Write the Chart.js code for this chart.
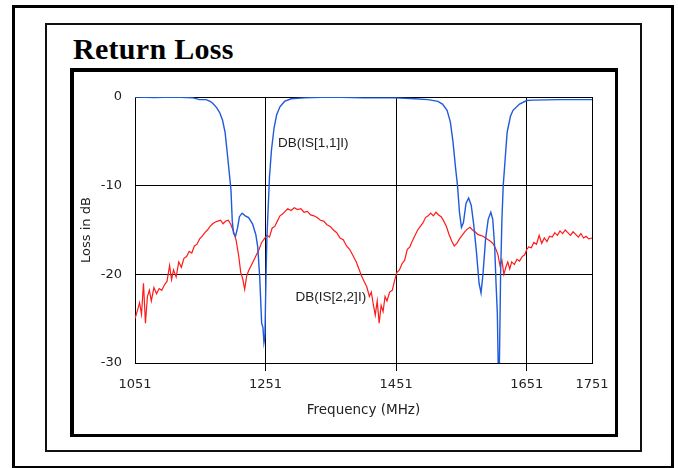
<!DOCTYPE html>
<html>
<head>
<meta charset="utf-8">
<script src="https://cdn.jsdelivr.net/npm/chart.js@4/dist/chart.umd.min.js"></script>
<style>
  html, body { margin: 0; padding: 0; background: #fff; }
  body { width: 678px; height: 468px; position: relative; overflow: hidden; }
  .frame { position: absolute; box-sizing: border-box; }
  #outer { left: 12px; top: 5px; width: 662px; height: 463px; border: 3px solid #000; border-bottom-width: 2px; }
  #middle { left: 45px; top: 23px; width: 597px; height: 429px; border: 2px solid #111; }
  #box { left: 70px; top: 68px; width: 548px; height: 369px; border: 4px solid #000; border-right-width: 3px; border-bottom-width: 3px; }
  #title { position: absolute; left: 73px; top: 32px; line-height: 1; font: bold 30px "Liberation Serif", "Times New Roman", serif; color: #000; letter-spacing: 0.3px; }
  #chart { position: absolute; left: 0; top: 0; }
</style>
</head>
<body>
<div class="frame" id="outer"></div>
<div class="frame" id="middle"></div>
<div class="frame" id="box"></div>
<div id="title">Return Loss</div>
<canvas id="chart" width="678" height="468"></canvas>
<script>
const xTicks = [1051, 1251, 1451, 1651, 1751];
const yTicks = [0, -10, -20, -30];

// DB(|S[1,1]|)
const s11Freq = [1051, 1080, 1110, 1140, 1150, 1160, 1166, 1170, 1176, 1181, 1185, 1189, 1193, 1196, 1198, 1200, 1202, 1205, 1208, 1211, 1215, 1220, 1225, 1231, 1236, 1239, 1242, 1245, 1247, 1248.5, 1250, 1251.6, 1253, 1255, 1257, 1260, 1264, 1268, 1273, 1280, 1290, 1310, 1350, 1400, 1450, 1480, 1500, 1515, 1522, 1529, 1534, 1538, 1542, 1545, 1548, 1551, 1554, 1558, 1562, 1566, 1570, 1574, 1578, 1581, 1584, 1588, 1592, 1596, 1599, 1602, 1604, 1606, 1607.5, 1609, 1611, 1613, 1615, 1618, 1621, 1626, 1630, 1640, 1651, 1660, 1700, 1751];
const s11Db = [0, -0.05, 0, -0.1, -0.3, -0.3, -0.5, -0.7, -1.2, -1.8, -2.6, -4.0, -6.8, -9.0, -10.5, -14.0, -15.4, -15.7, -14.8, -13.5, -13.1, -13.4, -13.6, -14.3, -15.5, -16.9, -20.3, -25.5, -26.0, -27.7, -27.0, -20.5, -16.0, -12.5, -9.0, -6.0, -3.5, -2.0, -1.1, -0.5, -0.2, -0.1, 0, -0.1, -0.1, -0.2, -0.3, -0.5, -0.8, -1.5, -2.8, -5.0, -8.0, -10.0, -13.0, -14.7, -14.2, -12.0, -11.4, -12.2, -14.5, -17.5, -21.0, -22.1, -20.0, -16.0, -13.8, -13.0, -13.8, -17.0, -21.0, -24.4, -31, -31, -20, -13.9, -10.0, -7.0, -4.0, -2.2, -1.5, -0.8, -0.4, -0.35, -0.3, -0.3];

// DB(|S[2,2]|)
const s22Freq = [1051, 1055, 1058, 1061, 1064, 1067, 1070, 1073, 1076, 1080, 1084, 1088, 1092, 1096, 1100, 1104, 1107, 1110, 1114, 1118, 1122, 1126, 1130, 1134, 1138, 1142, 1146, 1150, 1154, 1158, 1162, 1166, 1170, 1174, 1178, 1182, 1186, 1190, 1194, 1198, 1202, 1206, 1210, 1213, 1216, 1219, 1222, 1225, 1229, 1233, 1237, 1241, 1245, 1249, 1253, 1257, 1261, 1265, 1269, 1273, 1277, 1281, 1285, 1290, 1295, 1300, 1305, 1310, 1315, 1320, 1325, 1330, 1335, 1340, 1345, 1350, 1355, 1360, 1365, 1370, 1375, 1380, 1385, 1390, 1395, 1398, 1402, 1406, 1410, 1413, 1416, 1419, 1422, 1425, 1428, 1431, 1434, 1437, 1441, 1445, 1449, 1452, 1456, 1460, 1464, 1468, 1472, 1476, 1480, 1484, 1488, 1492, 1496, 1500, 1504, 1508, 1512, 1516, 1520, 1524, 1528, 1532, 1536, 1540, 1544, 1548, 1552, 1556, 1560, 1564, 1568, 1572, 1576, 1580, 1584, 1588, 1592, 1596, 1600, 1604, 1607, 1610, 1613, 1616, 1619, 1622, 1625, 1628, 1632, 1636, 1640, 1644, 1648, 1651, 1654, 1658, 1662, 1666, 1670, 1674, 1678, 1682, 1686, 1690, 1694, 1698, 1702, 1706, 1710, 1714, 1718, 1722, 1726, 1730, 1734, 1738, 1742, 1746, 1751];
const s22Db = [-25.0, -24.0, -23.2, -24.5, -21.0, -25.5, -22.5, -21.8, -23.0, -21.5, -22.2, -21.6, -21.8, -21.2, -20.8, -19.0, -20.6, -19.5, -20.3, -18.6, -19.2, -18.2, -18.0, -17.4, -17.6, -16.8, -16.6, -16.0, -15.7, -15.3, -15.0, -14.6, -14.3, -14.1, -14.0, -13.9, -14.3, -14.0, -13.9, -14.4, -15.2, -16.2, -18.0, -19.8, -20.5, -21.7, -20.2, -19.6, -19.0, -18.4, -17.8, -17.2, -16.4, -16.0, -15.6, -15.8, -14.8, -14.6, -14.0, -13.4, -13.2, -12.9, -12.6, -12.8, -12.5, -12.7, -12.6, -13.0, -12.9, -13.3, -13.4, -13.6, -13.9, -14.0, -14.4, -14.6, -15.0, -15.3, -15.9, -16.1, -16.8, -17.2, -17.9, -18.6, -19.6, -20.2, -20.8, -21.4, -22.5, -22.0, -23.4, -24.6, -23.0, -25.5, -23.5, -24.2, -22.5, -23.0, -22.0, -21.8, -20.6, -19.8, -19.5, -18.8, -18.4, -17.2, -16.9, -16.2, -15.6, -15.0, -14.6, -14.2, -13.6, -13.4, -13.1, -13.4, -13.0, -13.3, -13.5, -14.0, -14.6, -15.5, -16.2, -16.8, -16.5, -16.0, -15.6, -15.2, -14.9, -14.7, -15.0, -15.2, -15.5, -15.6, -15.7, -15.9, -16.1, -16.3, -16.6, -17.2, -17.8, -19.0, -18.4, -20.0, -19.2, -18.6, -19.4, -18.6, -18.9, -18.3, -18.5, -18.0, -17.8, -17.2, -16.9, -17.0, -16.4, -16.6, -15.6, -16.5, -15.9, -16.3, -15.7, -15.8, -15.3, -15.6, -15.1, -15.4, -15.0, -15.3, -15.6, -15.2, -15.5, -15.8, -15.4, -15.9, -15.7, -16.0, -15.9];

const labels = [
    { text: 'DB(IS[1,1]I)', x: 1270, y: -5.2 },
    { text: 'DB(IS[2,2]I)', x: 1297, y: -22.6 }
];

const FONT = '"DejaVu Sans", Verdana, sans-serif';
const toPoints = (xs, ys) => xs.map((x, i) => ({ x: x, y: ys[i] }));

const curveLabels = {
    id: 'curveLabels',
    afterDatasetsDraw(chart) {
        const ctx = chart.ctx;
        const xs = chart.scales.x, ys = chart.scales.y;
        ctx.save();
        ctx.font = '13.5px "Liberation Sans", Arial, sans-serif';
        ctx.fillStyle = '#222';
        ctx.textBaseline = 'middle';
        labels.forEach(l => ctx.fillText(l.text, xs.getPixelForValue(l.x), ys.getPixelForValue(l.y)));
        ctx.restore();
    }
};

const sample = document.getElementById('chart');
const myChart = new Chart(sample, {
    type: 'line',
    data: {
        datasets: [{
            data: toPoints(s11Freq, s11Db),
            borderColor: 'rgba(30, 90, 220, 1)',
            borderWidth: 1.4,
            pointRadius: 0,
            tension: 0
        }, {
            data: toPoints(s22Freq, s22Db),
            borderColor: 'rgba(255, 25, 25, 1)',
            borderWidth: 1.2,
            pointRadius: 0,
            tension: 0
        }]
    },
    options: {
        responsive: false,
        animation: false,
        layout: { padding: { left: 75, top: 97, right: 86, bottom: 45 } },
        plugins: { legend: { display: false }, tooltip: { enabled: false } },
        scales: {
            x: {
                type: 'linear',
                min: 1051,
                max: 1751,
                afterBuildTicks: s => { s.ticks = xTicks.map(v => ({ value: v })); },
                afterFit: s => { s.height = 60; },
                ticks: {
                    font: { family: FONT, size: 13 },
                    color: '#222',
                    padding: 6,
                    maxRotation: 0,
                    autoSkip: false,
                    callback: v => String(v)
                },
                grid: {
                    color: '#000',
                    lineWidth: 1,
                    tickLength: 8,
                    tickColor: c => (c.index === 0 || c.index === xTicks.length - 1) ? 'rgba(0,0,0,0)' : '#000'
                },
                border: { color: '#000', width: 1 },
                title: {
                    display: true,
                    text: 'Frequency (MHz)',
                    font: { family: FONT, size: 13.5 },
                    color: '#222',
                    padding: { top: 2 }
                }
            },
            y: {
                min: -30,
                max: 0,
                afterBuildTicks: s => { s.ticks = yTicks.map(v => ({ value: v })); },
                afterFit: s => { s.width = 60; },
                ticks: {
                    font: { family: FONT, size: 13 },
                    color: '#222',
                    padding: 13,
                    callback: v => String(v)
                },
                grid: { color: '#000', lineWidth: 1, drawTicks: false },
                border: { color: '#000', width: 1 },
                title: {
                    display: true,
                    text: 'Loss in dB',
                    font: { family: FONT, size: 13 },
                    color: '#222',
                    padding: { bottom: 0 }
                }
            }
        }
    },
    plugins: [curveLabels]
});
</script>
</body>
</html>
